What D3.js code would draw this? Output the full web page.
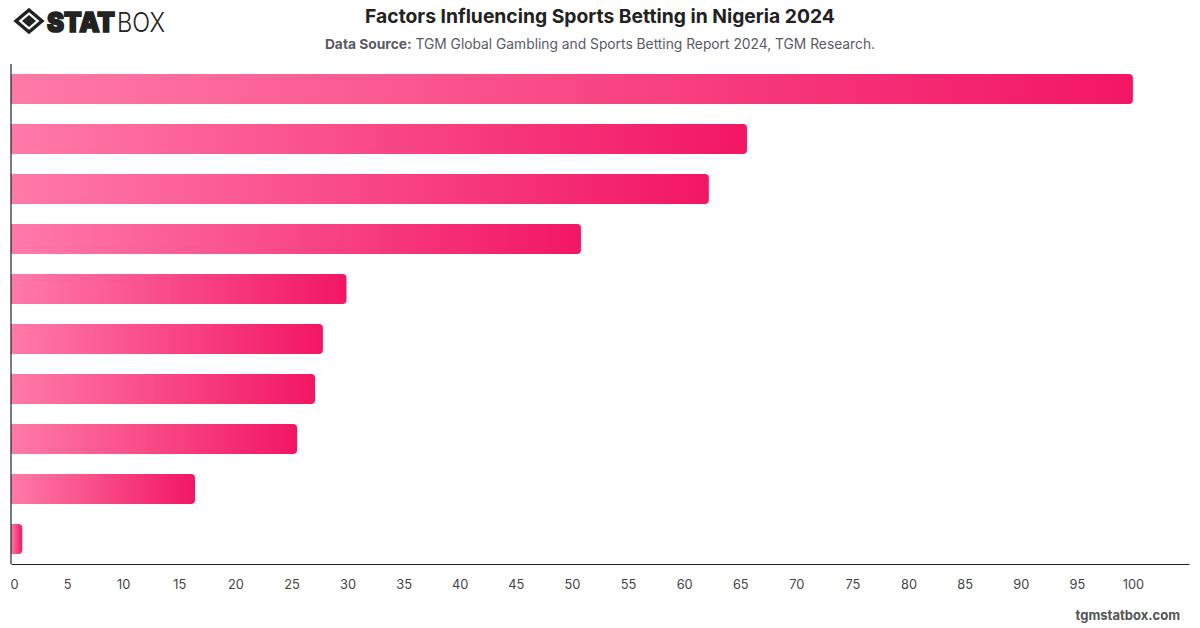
<!DOCTYPE html>
<html>
<head>
<meta charset="utf-8">
<script src="https://cdn.jsdelivr.net/npm/d3@7"></script>
<style>
  html, body { margin: 0; padding: 0; background: #fff; }
  svg { display: block; font-family: Inter, "Noto Sans", sans-serif; }
</style>
</head>
<body>
<svg id="chart" width="1200" height="628"></svg>
<script>
const categories = ["Factor 1","Factor 2","Factor 3","Factor 4","Factor 5","Factor 6","Factor 7","Factor 8","Factor 9","Factor 10"];
const values = [100, 65.6, 62.2, 50.8, 29.9, 27.8, 27.1, 25.5, 16.4, 1.0];
const tickValues = [0,5,10,15,20,25,30,35,40,45,50,55,60,65,70,75,80,85,90,95,100];
const titleText = "Factors Influencing Sports Betting in Nigeria 2024";
const sourceLabel = "Data Source:";
const sourceText = " TGM Global Gambling and Sports Betting Report 2024, TGM Research.";

const svg = d3.select("#chart");
const W = 1200, H = 628;
const m = { left: 11, right: 11, top: 64, bottom: 64 };

const x = d3.scaleLinear().domain([0, 105]).range([m.left, W - m.right]);
const y = d3.scaleBand().domain(categories).range([m.top, H - m.bottom]).paddingInner(0.4).paddingOuter(0.2);

const defs = svg.append("defs");

// Title
svg.append("text").attr("x", 600).attr("y", 23).attr("text-anchor", "middle")
  .attr("font-size", 19.3).attr("font-weight", 700).attr("fill", "#222").text(titleText);
const sub = svg.append("text").attr("x", 600).attr("y", 49).attr("text-anchor", "middle")
  .attr("font-size", 13.8).attr("fill", "#5a5a66");
sub.append("tspan").attr("font-weight", 700).text(sourceLabel);
sub.append("tspan").text(sourceText);

// Logo
const logo = svg.append("g").attr("transform", "translate(29,21)");
logo.append("path").attr("d", "M0,-11 L13,0 L0,11 L-13,0 Z").attr("fill", "none").attr("stroke", "#222").attr("stroke-width", 3.4);
logo.append("path").attr("d", "M0,-6 L7,0 L0,6 L-7,0 Z").attr("fill", "#222");
svg.append("text").attr("x", 47).attr("y", 32).attr("font-size", 27).attr("font-weight", 900)
  .attr("fill", "#222").attr("stroke", "#222").attr("stroke-width", 1.6)
  .attr("textLength", 68).attr("lengthAdjust", "spacingAndGlyphs")
  .attr("font-family", "Inter, sans-serif").text("STAT");
svg.append("text").attr("x", 117).attr("y", 32).attr("font-size", 27).attr("font-weight", 300)
  .attr("textLength", 48).attr("lengthAdjust", "spacingAndGlyphs")
  .attr("fill", "#222").attr("font-family", "Inter, sans-serif").text("BOX");

// Bars with gradient
const r = 4;
values.forEach((v, i) => {
  const g = defs.append("linearGradient").attr("id", "grad" + i).attr("x1", "0%").attr("x2", "100%").attr("y1", "0%").attr("y2", "0%");
  g.append("stop").attr("offset", "0%").attr("stop-color", "#ff7aa8");
  g.append("stop").attr("offset", "100%").attr("stop-color", "#f21664");
});

svg.append("g").selectAll("path").data(values).join("path")
  .attr("fill", (d, i) => `url(#grad${i})`)
  .attr("d", (d, i) => {
    const x0 = x(0), x1 = x(d), y0 = y(categories[i]), h = y.bandwidth();
    const rr = Math.min(r, (x1 - x0) / 2);
    return `M${x0},${y0} H${x1 - rr} Q${x1},${y0} ${x1},${y0 + rr} V${y0 + h - rr} Q${x1},${y0 + h} ${x1 - rr},${y0 + h} H${x0} Z`;
  });

// Axes
const xAxis = d3.axisBottom(x).tickValues(tickValues).tickSize(0).tickPadding(16);
const gx = svg.append("g").attr("transform", `translate(0,${H - m.bottom})`).call(xAxis);
gx.select(".domain").attr("stroke", "#222").attr("stroke-width", 1.2);
gx.selectAll("text").attr("font-size", 12.8).attr("fill", "#444").attr("font-family", "Inter, sans-serif")
  .attr("dx", (d) => d === 0 ? 3 : 0);

svg.append("line").attr("x1", x(0)).attr("x2", x(0)).attr("y1", m.top).attr("y2", H - m.bottom)
  .attr("stroke", "#222").attr("stroke-width", 1.2);

// Footer
svg.append("text").attr("x", 1180).attr("y", 620).attr("text-anchor", "end")
  .attr("font-size", 13).attr("font-weight", 700).attr("fill", "#555").text("tgmstatbox.com");
</script>
</body>
</html>
